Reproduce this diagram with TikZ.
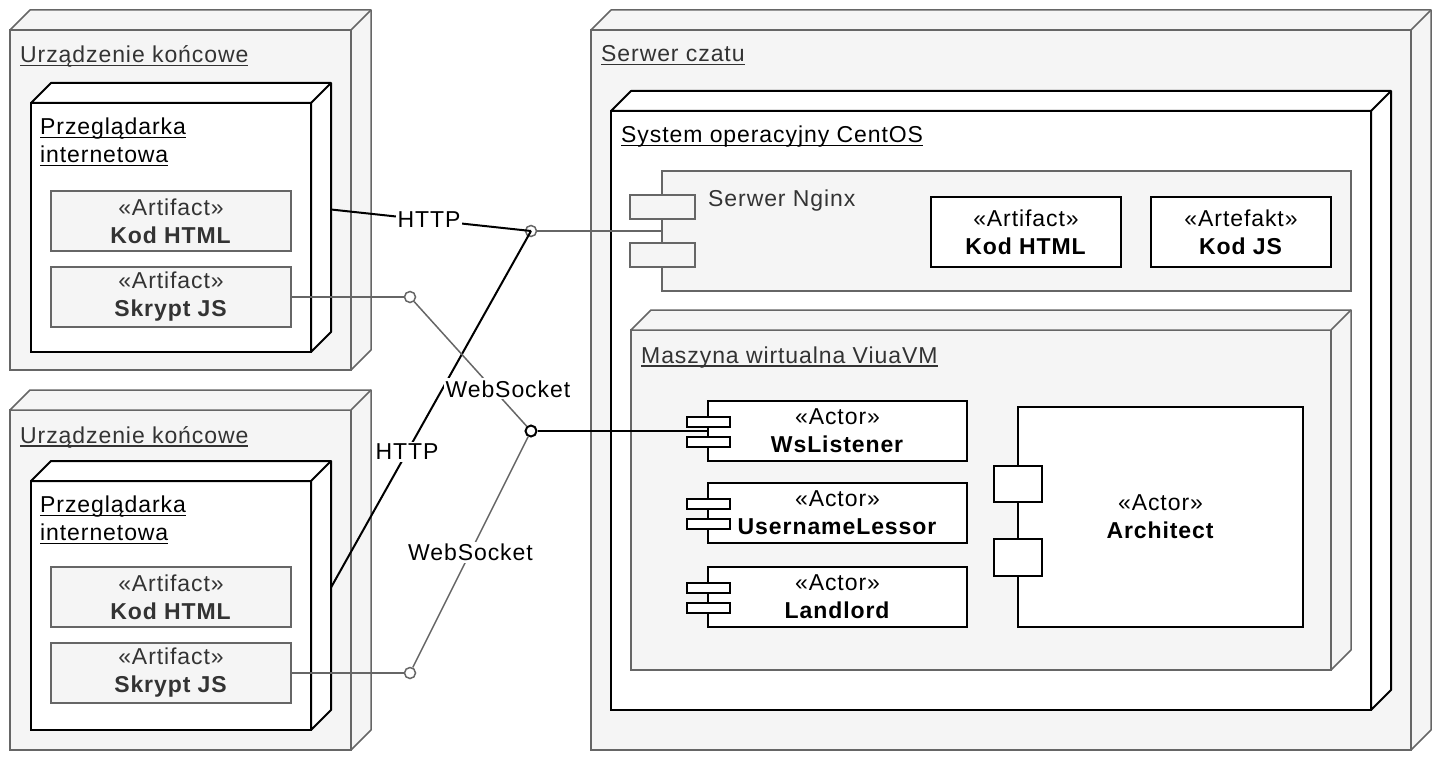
\documentclass[tikz,border=0pt]{standalone}
\usepackage{fontspec}
\setmainfont{Liberation Sans}[LetterSpace = 4]
\usetikzlibrary{positioning}
\definecolor{umlgray}{HTML}{666666}
\definecolor{umlfill}{HTML}{F5F5F5}
\definecolor{umltext}{HTML}{333333}
\newsavebox{\ulbox}
\newcommand{\undl}[1]{\sbox{\ulbox}{#1}\rlap{\rule[-3.5pt]{\wd\ulbox}{1.5pt}}\usebox{\ulbox}}

\begin{document}
\begin{tikzpicture}[x = 1pt, y = -1pt,
		every node/.style = { font = \fontsize{23}{28}\selectfont },
		graybox/.style = { draw = umlgray, fill = umlfill, text = umltext, line width = 1.5pt, anchor = north west, inner sep = 0pt, outer sep = 0pt },
		blackbox/.style = { draw = black, fill = white, text = black, line width = 2pt, anchor = north west, inner sep = 0pt, outer sep = 0pt },
		grayface/.style = { draw = umlgray, fill = umlfill, line width = 1.5pt, line join = bevel },
		blackface/.style = { draw = black, fill = white, line width = 2pt, line join = bevel },
		title/.style = { anchor = base west, inner sep = 0pt },
		grayport/.style = { draw = umlgray, fill = umlfill, line width = 1.5pt },
		blackport/.style = { draw = black, fill = white, line width = 1.5pt },
		grayline/.style = { draw = umlgray, line width = 1.5pt },
		blackline/.style = { draw = black, line width = 2pt },
		lollipop/.style = { circle, draw = umlgray, fill = white, line width = 1.5pt, minimum size = 11pt, inner sep = 0pt },
		lbl/.style = { fill = white, text = black, inner sep = 2pt }]
		\useasboundingbox (0,0) rectangle (1442,762);

		% urzadzenia koncowe
		\node [graybox, minimum width = 341, minimum height = 340] (dev1) at (10,30) {};
		\node [title, text = umltext] (dev1t) at ([shift = {(10,33)}]dev1.north west) {\undl{Urządzenie końcowe}};
		\node [blackbox, minimum width = 280, minimum height = 249] (br1) at (31,103) {};
		\node [anchor = north west, inner sep = 0pt, align = left] (br1t) at ([shift = {(9,15)}]br1.north west) {\undl{Przeglądarka}\\\undl{internetowa}};
		\node [graybox, minimum width = 240, minimum height = 60, align = center] (html1) at (51,191) {«Artifact»\\\textbf{Kod HTML}};
		\node [graybox, minimum width = 240, minimum height = 60, align = center, below = 16pt of html1] (js1) {«Artifact»\\\textbf{Skrypt JS}};

		\node [graybox, minimum width = 341, minimum height = 340] (dev2) at (10,410) {};
		\node [title, text = umltext] (dev2t) at ([shift = {(10,33)}]dev2.north west) {\undl{Urządzenie końcowe}};
		\node [blackbox, minimum width = 280, minimum height = 249] (br2) at (31,481) {};
		\node [anchor = north west, inner sep = 0pt, align = left] (br2t) at ([shift = {(9,15)}]br2.north west) {\undl{Przeglądarka}\\\undl{internetowa}};
		\node [graybox, minimum width = 240, minimum height = 60, align = center] (html2) at (51,567) {«Artifact»\\\textbf{Kod HTML}};
		\node [graybox, minimum width = 240, minimum height = 60, align = center, below = 16pt of html2] (js2) {«Artifact»\\\textbf{Skrypt JS}};

		% serwer
		\node [graybox, minimum width = 820, minimum height = 720] (srv) at (591,30) {};
		\node [title, text = umltext] (srvt) at ([shift = {(10,32)}]srv.north west) {\undl{Serwer czatu}};
		\node [blackbox, minimum width = 760, minimum height = 599] (os) at (611,111) {};
		\node [title] (ost) at ([shift = {(10,32)}]os.north west) {\undl{System operacyjny CentOS}};

		\node [graybox, minimum width = 689, minimum height = 120] (nginx) at (662,171) {};
		\node [title, text = umltext] (nginxt) at ([shift = {(46,36)}]nginx.north west) {Serwer Nginx};
		\node [blackbox, minimum width = 190, minimum height = 70, align = center] (ahtml) at (931,197) {«Artifact»\\\textbf{Kod HTML}};
		\node [blackbox, minimum width = 180, minimum height = 70, align = center, right = 30pt of ahtml] (ajs) {«Artefakt»\\\textbf{Kod JS}};

		\node [graybox, minimum width = 700, minimum height = 340] (vm) at (631,330) {};
		\node [title, text = umltext] (vmt) at ([shift = {(10,33)}]vm.north west) {\undl{Maszyna wirtualna ViuaVM}};
		\node [blackbox, minimum width = 259, minimum height = 60, align = center] (wsl) at (708,401) {«Actor»\\\textbf{WsListener}};
		\node [blackbox, minimum width = 259, minimum height = 60, align = center, below = 22pt of wsl] (usr) {«Actor»\\\textbf{UsernameLessor}};
		\node [blackbox, minimum width = 259, minimum height = 60, align = center, below = 24pt of usr] (land) {«Actor»\\\textbf{Landlord}};
		\node [blackbox, minimum width = 285, minimum height = 220, align = center] (arch) at (1018,407) {«Actor»\\\textbf{Architect}};

		% sciany boczne
		\foreach \n/\s in {dev1/grayface, dev2/grayface, br1/blackface, br2/blackface, srv/grayface, os/blackface, vm/grayface} {
			\draw [\s] (\n.north west) -- ++(20,-20) -| ([shift = {(20,-20)}]\n.south east) -- (\n.south east) -- (\n.north east) -- cycle;
			\draw [\s] (\n.north east) -- ++(20,-20);
		}

		% porty komponentow
		\draw [grayport] ([shift = {(-32,-36)}]nginx.west) rectangle ([shift = {(33,-12)}]nginx.west);
		\draw [grayport] ([shift = {(-32,12)}]nginx.west) rectangle ([shift = {(33,36)}]nginx.west);
		\foreach \a in {wsl, usr, land} {
			\draw [blackport] ([shift = {(-21,-14)}]\a.west) rectangle ([shift = {(22,-4)}]\a.west);
			\draw [blackport] ([shift = {(-21,6)}]\a.west) rectangle ([shift = {(22,16)}]\a.west);
		}
		\draw [blackport] ([shift = {(-24,-51)}]arch.west) rectangle ([shift = {(24,-15)}]arch.west);
		\draw [blackport] ([shift = {(-24,22)}]arch.west) rectangle ([shift = {(24,59)}]arch.west);

		% interfejsy
		\node [lollipop] (c1) at (531,231) {};
		\node [lollipop] (c2) at (410,297) {};
		\node [lollipop, draw = black, line width = 2pt] (c3) at (531,431) {};
		\node [lollipop] (c4) at (410,673) {};

		\draw [grayline] (c1) -- (nginx.west);
		\draw [blackline] ([shift = {(20,-18)}]br1.east) -- node [lbl, pos = 0.49] {HTTP} (c1.center);
		\draw [blackline] ([shift = {(20,-18)}]br2.east) -- node [lbl, pos = 0.38] {HTTP} (c1.center);
		\draw [grayline] (js1.east) -- (c2);
		\draw [grayline] (c2) -- node [lbl, pos = 0.7, xshift = 15pt] {WebSocket} (c3);
		\draw [grayline] (js2.east) -- (c4);
		\draw [grayline] (c4) -- node [lbl, pos = 0.5] {WebSocket} (c3);
		\draw [blackline] (c3) -- (wsl.west);
	\end{tikzpicture}
\end{document}
